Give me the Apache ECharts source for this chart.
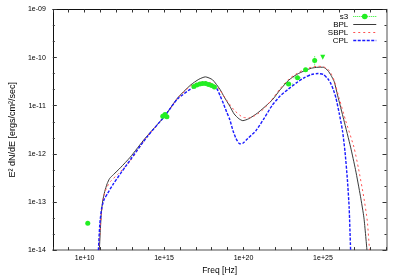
<!DOCTYPE html>
<html>
<head>
<meta charset="utf-8">
<script src="https://cdn.jsdelivr.net/npm/echarts@6/dist/echarts.min.js"></script>
<style>
html, body { margin: 0; padding: 0; background: #fff; }
#sed { width: 400px; height: 280px; }
</style>
</head>
<body>
<div id="sed"></div>
<script>
// values: log10(freq [Hz]) and log10(E^2 dN/dE [ergs/cm^2/sec])
var s3Freq = [10.20, 14.92, 15.06, 15.18, 16.88, 17.06, 17.25, 17.43, 17.62, 17.80, 17.99, 18.17, 22.84, 23.40, 23.91, 24.48, 24.99];
var s3Flux = [-13.44, -11.22, -11.18, -11.23, -10.60, -10.57, -10.55, -10.54, -10.54, -10.56, -10.58, -10.61, -10.55, -10.42, -10.25, -10.06, -9.99];
var s3Limit = [0, 0, 0, 0, 0, 0, 0, 0, 0, 0, 0, 0, 0, 0, 0, 0, 1];
// half widths of the error bars, in decades
var s3FreqErr = [0, 0, 0, 0, 0, 0, 0, 0, 0, 0, 0, 0, 0.30, 0.25, 0.12, 0.10, 0];
var s3FluxErr = [0, 0.04, 0.04, 0.04, 0, 0, 0, 0, 0, 0, 0, 0, 0.03, 0.03, 0.03, 0.10, 0];

var bplFreq = [10.93, 10.99, 11.05, 11.14, 11.27, 11.42, 11.58, 11.82, 12.25, 12.87, 13.80, 15.03, 15.85, 16.67, 17.19, 17.60, 18.05, 18.52, 18.79, 19.14, 19.41, 19.71, 19.96, 20.33, 20.89, 21.81, 22.30, 22.84, 23.35, 23.86, 24.28, 24.69, 25.02, 25.31, 25.51, 25.71, 25.92, 26.31, 26.74, 27.05, 27.36, 27.58, 27.77];
var bplFlux = [-14.0, -13.59, -13.25, -12.98, -12.78, -12.62, -12.51, -12.43, -12.29, -12.07, -11.68, -11.22, -10.84, -10.57, -10.45, -10.40, -10.46, -10.66, -10.82, -11.01, -11.17, -11.27, -11.31, -11.27, -11.15, -10.88, -10.67, -10.47, -10.35, -10.27, -10.22, -10.20, -10.20, -10.27, -10.37, -10.50, -10.78, -11.29, -11.86, -12.33, -12.88, -13.33, -14.0];

var sbplFreq = [10.90, 10.99, 11.08, 11.21, 11.39, 11.64, 12.07, 12.87, 13.80, 15.03, 15.85, 16.67, 17.19, 17.60, 18.05, 18.52, 18.93, 19.41, 19.96, 20.39, 20.89, 21.32, 21.81, 22.30, 22.84, 23.35, 23.86, 24.28, 24.69, 25.02, 25.31, 25.51, 25.71, 26.02, 26.43, 26.95, 27.24, 27.56, 27.79, 27.93];
var sbplFlux = [-14.0, -13.53, -13.17, -12.88, -12.70, -12.57, -12.43, -12.15, -11.70, -11.22, -10.85, -10.59, -10.52, -10.50, -10.54, -10.68, -10.88, -11.09, -11.24, -11.25, -11.17, -11.05, -10.86, -10.65, -10.45, -10.33, -10.24, -10.20, -10.18, -10.19, -10.24, -10.33, -10.48, -10.84, -11.31, -11.86, -12.31, -12.88, -13.39, -14.0];

var cplFreq = [10.87, 10.96, 11.08, 11.24, 11.45, 11.82, 12.56, 13.90, 15.03, 15.85, 16.88, 17.60, 17.99, 18.31, 18.54, 18.73, 18.94, 19.14, 19.34, 19.53, 19.76, 19.96, 20.27, 20.78, 21.32, 21.81, 22.30, 22.84, 23.35, 23.86, 24.28, 24.69, 25.02, 25.31, 25.51, 25.71, 25.82, 26.02, 26.23, 26.39, 26.54, 26.65, 26.74];
var cplFlux = [-14.0, -13.45, -13.12, -12.94, -12.82, -12.62, -12.27, -11.66, -11.22, -10.86, -10.61, -10.54, -10.57, -10.64, -10.80, -10.95, -11.13, -11.29, -11.52, -11.68, -11.79, -11.78, -11.68, -11.52, -11.25, -10.99, -10.80, -10.65, -10.52, -10.41, -10.35, -10.33, -10.35, -10.44, -10.55, -10.72, -10.84, -11.15, -11.52, -11.96, -12.54, -13.12, -14.0];

var xTickAt = [10, 15, 20, 25];
var xTickLabels = ['1e+10', '1e+15', '1e+20', '1e+25'];
var yTickAt = [-14, -13, -12, -11, -10, -9];
var yTickLabels = ['1e-14', '1e-13', '1e-12', '1e-11', '1e-10', '1e-09'];

var font = 'Liberation Sans, Arial, sans-serif';
var green = '#22ee22';

function pairs(xs, ys) {
    return xs.map(function (x, i) { return [x, ys[i]]; });
}

function labelFrom(at, labels) {
    return function (v) {
        var i = at.indexOf(Math.round(v * 1000) / 1000);
        return i < 0 ? '' : labels[i];
    };
}

function frameX(pos, shown) {
    return {
        type: 'value', min: 8, max: 29, interval: 1, position: pos,
        axisLine: { onZero: false, lineStyle: { color: shown ? '#8a8a8a' : '#111', width: shown ? 1.5 : 1 } },
        axisTick: { inside: true, length: 3, lineStyle: { color: '#333', width: 1 } },
        axisLabel: { show: shown, formatter: labelFrom(xTickAt, xTickLabels), fontSize: 7, color: '#000', margin: 4, fontFamily: font },
        splitLine: { show: false }
    };
}

function frameY(pos, shown) {
    return {
        type: 'value', min: -14, max: -9, interval: 1, position: pos,
        axisLine: { onZero: false, lineStyle: { color: shown ? '#111' : '#8a8a8a', width: shown ? 1 : 1.5 } },
        axisTick: { inside: true, length: 4, lineStyle: { color: '#333', width: 1 } },
        minorTick: { show: true, splitNumber: 3, length: 2, lineStyle: { color: '#333', width: 1 } },
        axisLabel: { show: shown, formatter: labelFrom(yTickAt, yTickLabels), fontSize: 7, color: '#000', margin: 7, fontFamily: font },
        splitLine: { show: false }
    };
}

var xBottom = frameX('bottom', true);
xBottom.name = 'Freq [Hz]';
xBottom.nameLocation = 'middle';
xBottom.nameGap = 11;
xBottom.nameTextStyle = { fontSize: 8.5, color: '#000', fontFamily: font };

var yLeft = frameY('left', true);
yLeft.name = 'E² dN/dE [ergs/cm²/sec]';
yLeft.nameLocation = 'middle';
yLeft.nameGap = 31;
yLeft.nameTextStyle = { fontSize: 9, color: '#000', fontFamily: font };

var lineOnly = { opacity: 0 };

// dotted error bars for s3, placed through the axes
function errorBars(params, api) {
    var x = api.value(0), y = api.value(1), dx = api.value(2), dy = api.value(3);
    var style = { stroke: green, lineWidth: 1, lineDash: [1, 1] };
    var kids = [];
    if (dx > 0) {
        var a = api.coord([x - dx, y]), b = api.coord([x + dx, y]);
        kids.push({ type: 'line', shape: { x1: a[0], y1: a[1], x2: b[0], y2: b[1] }, style: style });
    }
    if (dy > 0) {
        var c = api.coord([x, y - dy]), d = api.coord([x, y + dy]);
        kids.push({ type: 'line', shape: { x1: c[0], y1: c[1], x2: d[0], y2: d[1] }, style: style });
    }
    return { type: 'group', children: kids };
}

var chart = echarts.init(document.getElementById('sed'), null, { renderer: 'canvas' });
chart.setOption({
    animation: false,
    backgroundColor: '#fff',
    grid: { left: 46, right: 13.5, top: 9.5, bottom: 25 },
    xAxis: [xBottom, frameX('top', false)],
    yAxis: [yLeft, frameY('right', false)],
    legend: {
        orient: 'vertical', right: 23, top: 12.5, align: 'right', padding: 0,
        itemWidth: 23, itemHeight: 7, itemGap: 0,
        textStyle: { fontSize: 8, color: '#000', fontFamily: font },
        data: [
            { name: 's3', lineStyle: { color: green, type: 'dotted', width: 1, opacity: 1 } },
            { name: 'BPL', itemStyle: lineOnly, lineStyle: { width: 1 } },
            { name: 'SBPL', itemStyle: lineOnly, lineStyle: { width: 1 } },
            { name: 'CPL', itemStyle: lineOnly, lineStyle: { width: 1.5 } }
        ]
    },
    series: [
        {
            name: 'BPL', type: 'line', data: pairs(bplFreq, bplFlux), smooth: 0.2,
            symbol: 'none', lineStyle: { color: '#3a3a3a', width: 1 }, z: 2
        },
        {
            name: 'SBPL', type: 'line', data: pairs(sbplFreq, sbplFlux), smooth: 0.2,
            symbol: 'none', lineStyle: { color: '#ff5050', width: 1, type: [2, 3] }, z: 3
        },
        {
            name: 'CPL', type: 'line', data: pairs(cplFreq, cplFlux), smooth: 0.2,
            symbol: 'none', lineStyle: { color: '#1a1aff', width: 1.4, type: [3, 1.5] }, z: 4
        },
        {
            type: 'custom', z: 5, silent: true, renderItem: errorBars,
            data: s3Freq.map(function (x, i) { return [x, s3Flux[i], s3FreqErr[i], s3FluxErr[i]]; })
        },
        {
            name: 's3', type: 'line', z: 6,
            data: pairs(s3Freq, s3Flux).map(function (p, i) {
                return s3Limit[i]
                    ? { value: p, symbol: 'triangle', symbolRotate: 180, symbolSize: 5 }
                    : { value: p };
            }),
            symbol: 'circle', symbolSize: 5, showAllSymbol: true,
            itemStyle: { color: green, borderWidth: 0 },
            lineStyle: { opacity: 0 }
        }
    ]
});
</script>
</body>
</html>
